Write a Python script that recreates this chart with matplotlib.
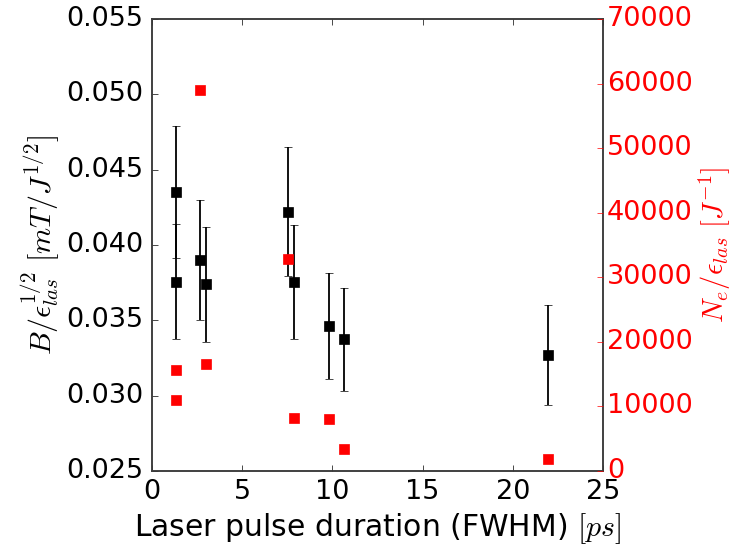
import matplotlib
matplotlib.use("Agg")
import matplotlib.pyplot as plt

# Pulse duration (FWHM) in ps for each shot group
duration_b = [1.35, 1.35, 2.65, 2.98, 7.56, 7.85, 9.83, 10.63, 21.93]
# Normalised magnetic field B / eps^(1/2) and its uncertainty
b_norm = [0.0435, 0.03756, 0.0390, 0.03738, 0.04221, 0.03756, 0.03461, 0.03373, 0.03272]
b_err = [0.00438, 0.00381, 0.00398, 0.00379, 0.00427, 0.00380, 0.00352, 0.00343, 0.00332]

# Electron number per unit laser energy
duration_n = [1.35, 1.35, 2.64, 2.98, 7.56, 7.85, 9.83, 10.63, 21.93]
n_norm = [15640, 11000, 58960, 16570, 32790, 8210, 8050, 3450, 1810]

x_ticks = [0, 5, 10, 15, 20, 25]
y_ticks = [0.025, 0.030, 0.035, 0.040, 0.045, 0.050, 0.055]
n_ticks = [0, 10000, 20000, 30000, 40000, 50000, 60000, 70000]

plt.style.use("classic")
plt.rcParams["figure.facecolor"] = "white"
plt.rcParams["savefig.facecolor"] = "white"
plt.rcParams["mathtext.fontset"] = "cm"
tick_fs = 19.5
label_fs = 21.5

fig = plt.figure(figsize=(7.37, 5.5), dpi=100)
ax = fig.add_axes([0.2063, 0.1436, 0.6119, 0.8219])

ax.errorbar(duration_b, b_norm, yerr=b_err, fmt="ks", ms=6.5, capsize=3,
            ecolor="k", elinewidth=1.3, mec="k")
ax.set_xlim(0, 25)
ax.set_ylim(0.025, 0.055)
ax.set_xticks(x_ticks)
ax.set_yticks(y_ticks)
ax.set_yticklabels([f"{v:.3f}" for v in y_ticks])
ax.tick_params(labelsize=tick_fs, pad=6)
ax.set_xlabel(r"Laser pulse duration (FWHM) $[ps]$", fontsize=label_fs, labelpad=4)
ax.set_ylabel(r"$B/\epsilon_{las}^{1/2}\ [mT/J^{1/2}]$", fontsize=label_fs, labelpad=4)
ax.yaxis.tick_left()

ax2 = ax.twinx()
ax2.plot(duration_n, n_norm, "rs", ms=6.5, mec="r")
ax2.set_ylim(0, 70000)
ax2.set_yticks(n_ticks)
ax2.tick_params(axis="y", colors="r", labelsize=tick_fs, pad=3)
ax2.set_ylabel(r"$N_e/\epsilon_{las}\ [J^{-1}]$", fontsize=20.5, color="r", labelpad=3)
ax2.set_xlim(0, 25)

for a in (ax, ax2):
    for sp in a.spines.values():
        sp.set_color("0.25")
        sp.set_linewidth(1.2)

fig.savefig("out.png", dpi=100)
